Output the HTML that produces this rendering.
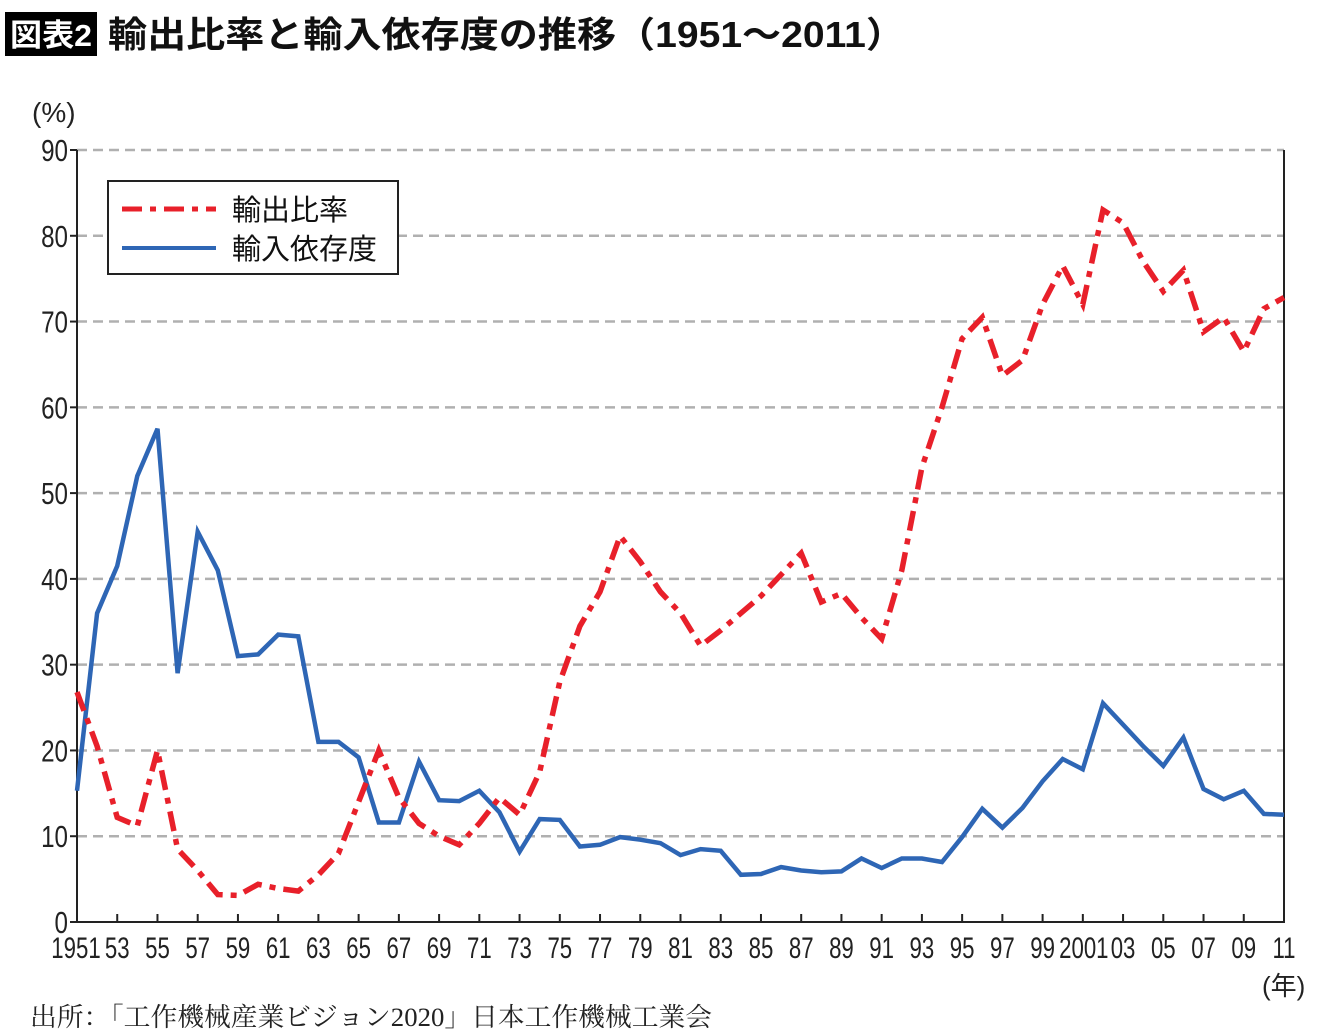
<!DOCTYPE html>
<html><head><meta charset="utf-8"><style>
body{margin:0;background:#fff;}
svg{display:block;font-family:"Liberation Sans","Noto Sans CJK JP",sans-serif;}
</style></head><body>
<svg id="chart" width="1340" height="1036" viewBox="0 0 1340 1036" xmlns="http://www.w3.org/2000/svg">
<rect x="0" y="0" width="1340" height="1036" fill="#fff"/>
<rect x="5" y="12" width="92" height="44" fill="#000"/>
<text x="51" y="46" text-anchor="middle" fill="#fff" font-size="31" font-weight="bold" textLength="82" lengthAdjust="spacingAndGlyphs" font-family="Liberation Sans,Noto Sans CJK JP,sans-serif">図表2</text>
<text x="108" y="47" font-size="36" font-weight="bold" fill="#111" textLength="797" lengthAdjust="spacingAndGlyphs" font-family="Liberation Sans,Noto Sans CJK JP,sans-serif">輸出比率と輸入依存度の推移（1951〜2011）</text>
<text x="32" y="122" font-size="28" fill="#222">(%)</text>
<g id="grid"></g>
<g id="axes"></g>
<g id="series"></g>
<g>
<rect x="108" y="181" width="290" height="93" fill="#fff" stroke="#222" stroke-width="2"/>
<line x1="122" y1="209" x2="216" y2="209" stroke="#e8202a" stroke-width="5" stroke-dasharray="20,8,6,8"/>
<text x="232" y="220" font-size="29" fill="#111">輸出比率</text>
<line x1="122" y1="248" x2="216" y2="248" stroke="#2e66b5" stroke-width="4"/>
<text x="232" y="259" font-size="29" fill="#111">輸入依存度</text>
</g>
<text x="1262" y="995" font-size="26" fill="#222">(年)</text>
<text x="30" y="1026" font-size="26" fill="#222" textLength="682" lengthAdjust="spacingAndGlyphs" font-family="Liberation Serif,Noto Serif CJK SC,serif">出所：「工作機械産業ビジョン2020」日本工作機械工業会</text>
</svg>
<script>
const years = [];
for (let y = 1951; y <= 2011; y++) years.push(y);
const exportRatio = [26.8,20.5,12.2,11.2,20,8.5,6,3.2,3.1,4.4,3.9,3.6,5.5,8,14,20,14.5,11.5,10,9,11.5,14.5,12.5,17.5,28,34.5,38.5,45,42,38.5,36,32.2,34,36,38,40.5,43,37.3,38.3,35.5,33,41,53,60,68,70.5,63.7,65.5,72,76.5,72,83,81.5,77,73.5,76,68.8,70.5,66.5,71.5,72.8];
const importDep = [15.3,36,41.5,52,57.5,29,45.5,41,31,31.2,33.5,33.3,21,21,19.2,11.6,11.6,18.7,14.2,14.1,15.3,12.8,8.2,12,11.9,8.8,9,9.9,9.6,9.2,7.8,8.5,8.3,5.5,5.6,6.4,6.0,5.8,5.9,7.4,6.3,7.4,7.4,7.0,9.9,13.2,11,13.3,16.4,19,17.8,25.5,23,20.5,18.2,21.5,15.5,14.3,15.3,12.6,12.5];
const yTicks = [0,10,20,30,40,50,60,70,80,90];
const xTickLabels = ["1951","53","55","57","59","61","63","65","67","69","71","73","75","77","79","81","83","85","87","89","91","93","95","97","99","2001","03","05","07","09","11"];

const NS = "http://www.w3.org/2000/svg";
const L = 77, R = 1284, T = 150, B = 922;
const xs = y => L + (y - 1951) * (R - L) / 60;
const ys = v => B - v * (B - T) / 90;
function mk(tag, attrs, parent, txt) {
  const e = document.createElementNS(NS, tag);
  for (const k in attrs) e.setAttribute(k, attrs[k]);
  if (txt !== undefined) e.textContent = txt;
  parent.appendChild(e);
  return e;
}
const grid = document.getElementById('grid');
const axes = document.getElementById('axes');
const series = document.getElementById('series');
const SY = 0.78, SX = 0.74;
yTicks.forEach(v => {
  if (v > 0) {
    const g = mk('line', {x1: L, x2: R, y1: ys(v), y2: ys(v), stroke: '#b0b0b0', 'stroke-width': 2.5, 'stroke-dasharray': '10,6'}, grid);
    
    
  }
  const t = mk('line', {x1: L - 7, x2: L, y1: ys(v), y2: ys(v), stroke: '#222', 'stroke-width': 2}, axes);
  
  
  const lb = mk('text', {x: 68 / SY, y: ys(v) + 11, 'text-anchor': 'end', 'font-size': 31, fill: '#222', transform: 'scale(' + SY + ',1)'}, axes, String(v));
  
  
});
const ax = mk('path', {d: `M${L},${T} V${B} H${R} V${T}`, fill: 'none', stroke: '#222', 'stroke-width': 2}, axes);


xTickLabels.forEach((lab, i) => {
  const yr = 1951 + i * 2;
  const x = xs(yr);
  if (i > 0) {
    const t = mk('line', {x1: x, x2: x, y1: B - 8, y2: B, stroke: '#222', 'stroke-width': 2}, axes);
    
    
  }
  let cx = x;
  if (i === 0) cx = x - 1;
  if (lab === '2001') cx = x + 1;
  const lb = mk('text', {x: cx / SX, y: 958, 'text-anchor': 'middle', 'font-size': 30, fill: '#222', transform: 'scale(' + SX + ',1)'}, axes, lab);
  
  
});
function pts(arr) { return arr.map((v, i) => xs(years[i]).toFixed(1) + ',' + ys(v).toFixed(1)).join(' '); }
const imp = mk('polyline', {points: pts(importDep), fill: 'none', stroke: '#2e66b5', 'stroke-width': 4.5, 'stroke-linejoin': 'miter'}, series);


const exp = mk('polyline', {points: pts(exportRatio), fill: 'none', stroke: '#e8202a', 'stroke-width': 5.5, 'stroke-dasharray': '20,8,6,8', 'stroke-linejoin': 'miter'}, series);


</script>
</body></html>
